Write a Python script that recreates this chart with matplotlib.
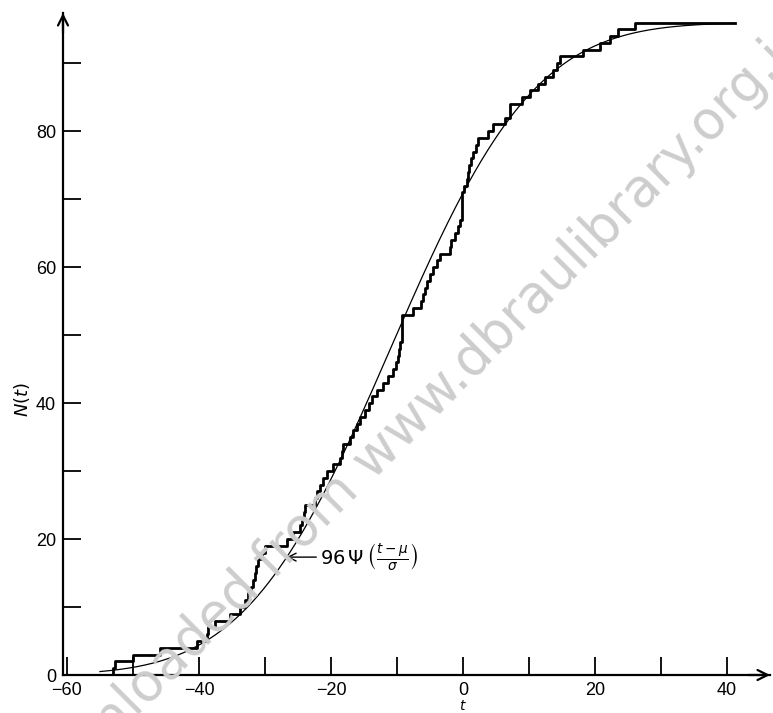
import numpy as np
import matplotlib
matplotlib.use('Agg')
import matplotlib.pyplot as plt
from math import erf, sqrt

# ---- data ----
event_times = [
    -53.0, -52.7, -50.0, -45.9, -40.3, -38.8, -38.6, -37.6, -35.3, -33.8,
    -33.0, -32.5, -32.1, -31.8, -31.5, -31.3, -31.0, -30.5, -30.0, -26.7,
    -25.7, -24.7, -24.4, -24.1, -23.9, -22.4, -22.1, -21.6, -21.2, -20.6,
    -19.7, -18.7, -18.4, -18.2, -17.1, -16.6, -16.1, -15.6, -14.8, -14.3,
    -13.8, -13.1, -12.1, -11.4, -10.6, -10.1, -9.9, -9.7, -9.55, -9.3,
    -9.3, -9.3, -9.3, -7.6, -6.3, -6.0, -5.7, -5.5, -5.0, -4.5,
    -4.0, -3.5, -2.0, -1.8, -1.2, -0.8, -0.5, -0.2, -0.1, -0.1,
    -0.1, 0.2, 0.6, 0.8, 0.9, 1.2, 1.5, 2.0, 2.3, 3.8,
    4.5, 6.4, 7.1, 7.1, 8.9, 10.2, 11.4, 12.4, 13.6, 14.2,
    14.7, 18.2, 20.8, 22.3, 23.5, 26.0,
]
t_start = -60.0
t_end = 41.2
total = 96
mu = -11.0
sigma = 17.2
curve_range = (-55.0, 41.2)
x_major = [-60, -40, -20, 0, 20, 40]
x_minor = [-50, -30, -10, 10, 30]
y_major = [0, 20, 40, 60, 80]
y_minor = [10, 30, 50, 70, 90]
annot_t = -26.7
annot_text_t = -21.6
watermark = 'Downloaded from www.dbraulibrary.org.in'

# ---- figure ----
W, H = 773, 713
fig = plt.figure(figsize=(W / 100, H / 100), dpi=100)
ax = fig.add_axes([63 / W, 38 / H, 707 / W, 662 / H])
ax.set_facecolor('none')
ax.set_xlim(-60.6, 46.5)
ax.set_ylim(0, 97.4)

# watermark (behind everything)
fig.text(412 / W, 1 - 420 / H, watermark, rotation=45, color='#cdcdcd',
         fontsize=38, ha='center', va='center', zorder=0,
         family='DejaVu Sans', rotation_mode='anchor')

# step function
times = np.sort(np.array(event_times))
xs = np.concatenate([[t_start], times, [t_end]])
ys = np.concatenate([[0], np.arange(1, len(times) + 1), [len(times)]])
ax.step(xs, ys, where='post', color='black', lw=2.0, zorder=3)

# fitted curve 96*Psi((t-mu)/sigma)
def Psi(z):
    return 0.5 * (1 + np.vectorize(erf)(z / sqrt(2)))

tt = np.linspace(curve_range[0], curve_range[1], 600)
ax.plot(tt, total * Psi((tt - mu) / sigma), color='black', lw=0.9, zorder=2)

# annotation
yv = float(total * Psi((annot_t - mu) / sigma))
ax.annotate(r'$96\,\Psi\,\left(\frac{t-\mu}{\sigma}\right)$', xy=(annot_t, yv),
            xytext=(annot_text_t, yv), ha='left', va='center', fontsize=14,
            arrowprops=dict(arrowstyle='->', lw=1.0, color='black',
                            shrinkA=1, shrinkB=0))

# axes styling
for s in ['top', 'right']:
    ax.spines[s].set_visible(False)
for s in ['left', 'bottom']:
    ax.spines[s].set_linewidth(1.6)
ax.set_xticks(x_major)
ax.set_xticks(x_minor, minor=True)
ax.set_yticks(y_major)
ax.set_yticks(y_minor, minor=True)
ax.set_xticklabels([str(v).replace('-', '\u2212') for v in x_major],
                   family='Liberation Sans', fontsize=13)
ax.set_yticklabels([str(v) for v in y_major], family='Liberation Sans', fontsize=13)
ax.tick_params(which='both', direction='in', length=13, width=1.3, pad=5)

# axis arrows
ax.annotate('', xy=(1.0, 0), xytext=(0.97, 0), xycoords='axes fraction',
            arrowprops=dict(arrowstyle='->', lw=1.6, color='black',
                            mutation_scale=18, shrinkA=0, shrinkB=0),
            annotation_clip=False)
ax.annotate('', xy=(0, 1.0), xytext=(0, 0.97), xycoords='axes fraction',
            arrowprops=dict(arrowstyle='->', lw=1.6, color='black',
                            mutation_scale=18, shrinkA=0, shrinkB=0),
            annotation_clip=False)

fig.text(22 / W, 1 - 400 / H, r'$N(t)$', rotation=90, ha='center', va='center',
         fontsize=13)
fig.text(463 / W, 1 - 706 / H, r'$t$', ha='center', va='center', fontsize=10)

fig.savefig('out.png', dpi=100)
